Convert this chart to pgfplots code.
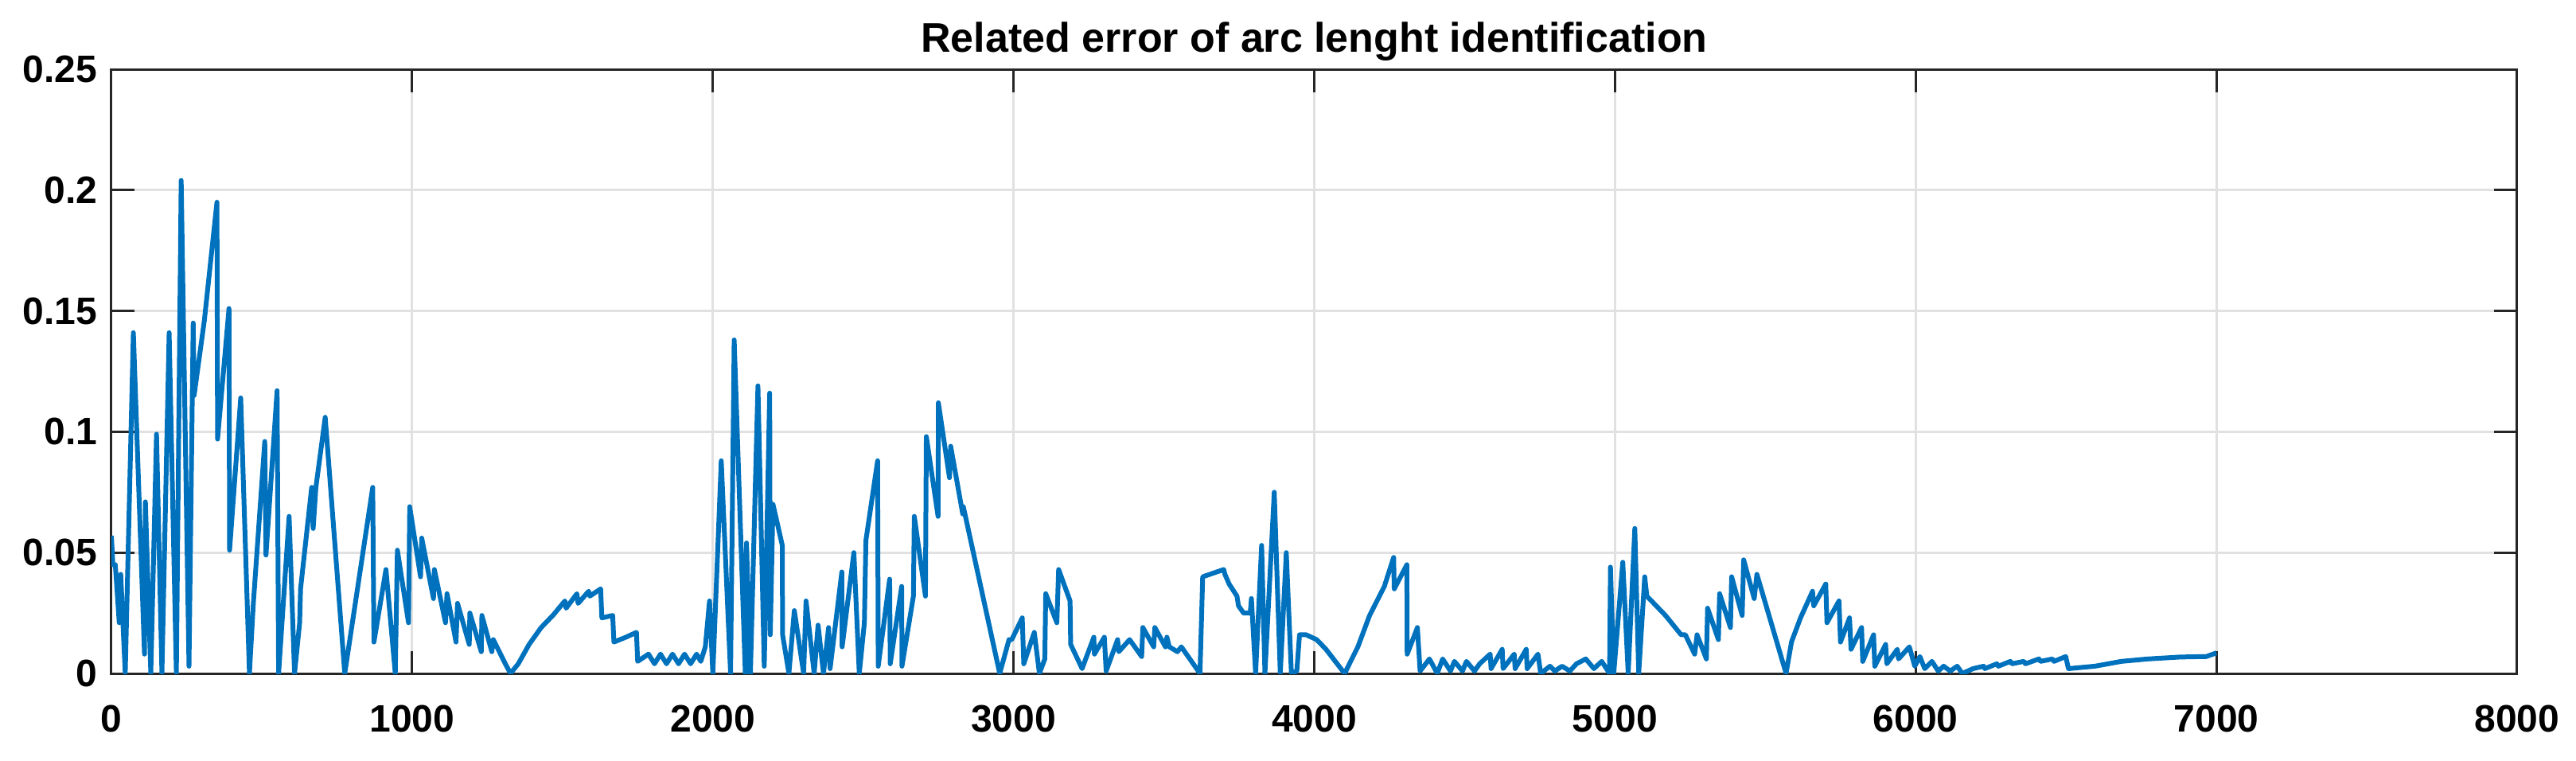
\documentclass[border=0pt]{standalone}
\usepackage{fontspec}
\setmainfont{Liberation Sans}
\usepackage{pgfplots}
\pgfplotsset{compat=1.18}
\definecolor{mblue}{RGB}{0,114,189}
\definecolor{mgrid}{RGB}{225,225,225}
\definecolor{maxis}{RGB}{38,38,38}

\begin{document}
\begin{tikzpicture}
\path[use as bounding box] (-28pt,-21.8pt) rectangle (619.4pt,169.2pt);
\begin{axis}[
  at={(0pt,0pt)}, anchor=south west,
  scale only axis, width=604.6pt, height=151.8pt,
  xmin=0, xmax=8000, ymin=0, ymax=0.25,
  xtick={0,1000,...,8000},
  ytick={0,0.05,0.1,0.15,0.2,0.25},
  scaled x ticks=false, scaled y ticks=false,
  /pgf/number format/assume math mode=true,
  /pgf/number format/1000 sep={},
  yticklabel style={/pgf/number format/fixed, /pgf/number format/precision=2},
  tick label style={font=\fontsize{9.6}{11}\selectfont\bfseries},
  xticklabel style={yshift=-4.5pt},
  title={Related error of arc lenght identification},
  every axis title shift=0pt,
  title style={at={(0.5,1)}, anchor=base, yshift=4.4pt, inner sep=0pt,
    font=\fontsize{10.4}{12}\selectfont\bfseries},
  grid=major,
  major grid style={mgrid, line width=0.6pt},
  axis line style={maxis, line width=0.6pt},
  tick style={maxis, line width=0.6pt},
  tick align=inside, major tick length=5.7pt,
]
\addplot[mblue, line width=1.2pt, line join=round, mark=none] table {
x y
0 0.057
5 0.045
13 0.045
26 0.021
31 0.041
46 0
73 0.141
110 0.008
113 0.071
131 0
150 0.099
168 0
192 0.141
216 0
232 0.204
258 0.003
272 0.145
275 0.115
309 0.146
351 0.195
353 0.097
391 0.151
393 0.051
430 0.114
459 0
472 0.029
510 0.096
514 0.049
551 0.117
556 0
591 0.065
609 0
626 0.021
629 0.035
666 0.077
671 0.060
680 0.077
711 0.106
776 0
869 0.077
873 0.013
913 0.043
944 0
951 0.051
988 0.021
992 0.069
1028 0.040
1032 0.056
1071 0.031
1074 0.043
1111 0.021
1116 0.033
1146 0.013
1151 0.029
1190 0.012
1192 0.025
1230 0.009
1232 0.024
1265 0.009
1270 0.014
1310 0.004
1327 0
1353 0.004
1389 0.012
1429 0.019
1468 0.024
1508 0.030
1512 0.027
1548 0.033
1552 0.029
1587 0.034
1591 0.032
1627 0.035
1631 0.023
1667 0.024
1671 0.013
1711 0.015
1746 0.017
1750 0.005
1786 0.008
1806 0.004
1826 0.008
1846 0.004
1866 0.008
1886 0.004
1906 0.008
1926 0.004
1946 0.008
1960 0.005
1975 0.011
1989 0.030
2000 0
2028 0.088
2059 0
2071 0.138
2108 0
2112 0.054
2125 0
2150 0.119
2171 0.003
2189 0.116
2191 0.016
2200 0.070
2231 0.053
2232 0.016
2253 0
2271 0.026
2302 0
2310 0.030
2337 0
2350 0.020
2368 0
2385 0.019
2390 0.002
2429 0.042
2430 0.011
2469 0.050
2487 0
2504 0.021
2509 0.055
2548 0.088
2550 0.003
2588 0.039
2590 0.004
2628 0.036
2629 0.003
2667 0.032
2670 0.065
2707 0.032
2710 0.098
2749 0.065
2750 0.112
2787 0.081
2791 0.094
2831 0.066
2833 0.069
2954 0
2985 0.014
2994 0.014
3029 0.023
3034 0.004
3069 0.017
3086 0
3104 0.006
3107 0.033
3144 0.021
3150 0.043
3188 0.030
3190 0.012
3228 0.002
3267 0.015
3269 0.008
3302 0.015
3308 0.001
3346 0.014
3350 0.009
3386 0.014
3426 0.007
3430 0.019
3466 0.011
3470 0.019
3505 0.011
3510 0.015
3518 0.011
3545 0.009
3558 0.011
3620 0
3629 0.040
3699 0.043
3703 0.041
3717 0.037
3743 0.032
3748 0.028
3765 0.025
3787 0.025
3791 0.031
3805 0
3825 0.053
3836 0
3867 0.075
3887 0
3907 0.050
3924 0
3942 0.001
3951 0.016
3973 0.016
4008 0.014
4039 0.010
4101 0
4145 0.011
4184 0.024
4233 0.036
4264 0.048
4266 0.035
4308 0.045
4309 0.008
4343 0.019
4352 0.001
4383 0.006
4409 0
4427 0.006
4453 0.001
4466 0.005
4493 0.001
4506 0.005
4533 0.001
4550 0.004
4585 0.008
4588 0.002
4625 0.010
4628 0.002
4665 0.008
4668 0.002
4705 0.010
4708 0.002
4744 0.008
4753 0
4784 0.003
4800 0.001
4824 0.003
4850 0.001
4872 0.004
4903 0.006
4930 0.002
4956 0.005
4982 0
4985 0.044
4996 0
5026 0.046
5044 0
5066 0.060
5079 0
5099 0.040
5106 0.032
5168 0.024
5220 0.016
5234 0.016
5265 0.008
5273 0.016
5304 0.006
5308 0.027
5344 0.014
5348 0.033
5384 0.019
5388 0.040
5423 0.024
5428 0.047
5463 0.031
5472 0.041
5569 0
5587 0.013
5617 0.023
5657 0.034
5661 0.028
5701 0.037
5705 0.021
5745 0.030
5750 0.013
5780 0.023
5785 0.010
5820 0.019
5824 0.005
5860 0.016
5864 0.003
5900 0.012
5904 0.004
5939 0.010
5943 0.006
5979 0.011
5997 0.003
6014 0.007
6030 0.002
6054 0.005
6075 0.001
6093 0.003
6115 0.001
6138 0.003
6155 0
6191 0.002
6226 0.003
6230 0.002
6270 0.004
6275 0.003
6315 0.005
6320 0.004
6360 0.005
6365 0.004
6410 0.006
6415 0.005
6455 0.006
6460 0.005
6499 0.007
6508 0.002
6596 0.003
6684 0.005
6772 0.006
6880 0.0068
6966 0.007
6989 0.008
7000 0.0085
};
\end{axis}
\end{tikzpicture}
\end{document}
